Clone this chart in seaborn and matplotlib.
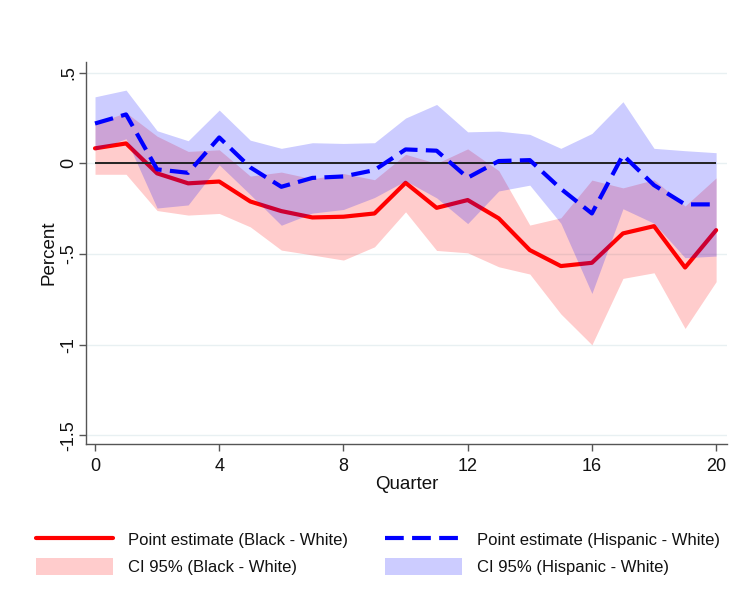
import matplotlib
matplotlib.use("Agg")
import matplotlib.pyplot as plt
from matplotlib.lines import Line2D
from matplotlib.patches import Patch
import pandas as pd
import seaborn as sns

# ---------------- data ----------------
quarters = list(range(21))
black_est = [0.083, 0.11, -0.055, -0.11, -0.10, -0.21, -0.263, -0.298, -0.294, -0.276, -0.107,
             -0.245, -0.202, -0.303, -0.478, -0.566, -0.548, -0.386, -0.346, -0.574, -0.368]
black_hi = [0.22, 0.28, 0.15, 0.066, 0.075, -0.07, -0.048, -0.085, -0.056, -0.09, 0.05,
            0.0, 0.08, -0.04, -0.34, -0.30, -0.092, -0.135, -0.09, -0.235, -0.08]
black_lo = [-0.06, -0.06, -0.26, -0.285, -0.276, -0.35, -0.478, -0.505, -0.533, -0.46, -0.267,
            -0.48, -0.493, -0.57, -0.61, -0.83, -1.0, -0.634, -0.603, -0.91, -0.652]
hisp_est = [0.22, 0.27, -0.033, -0.052, 0.143, -0.022, -0.129, -0.08, -0.072, -0.037, 0.077,
            0.07, -0.079, 0.013, 0.018, -0.14, -0.276, 0.046, -0.12, -0.226, -0.226]
hisp_hi = [0.367, 0.404, 0.18, 0.125, 0.294, 0.128, 0.083, 0.114, 0.11, 0.114, 0.25,
           0.325, 0.174, 0.178, 0.16, 0.083, 0.165, 0.34, 0.083, 0.07, 0.059]
hisp_lo = [0.073, 0.136, -0.246, -0.229, -0.008, -0.172, -0.341, -0.274, -0.254, -0.188, -0.096,
           -0.19, -0.332, -0.152, -0.12, -0.33, -0.717, -0.25, -0.33, -0.52, -0.511]

x_ticks = [0, 4, 8, 12, 16, 20]
y_ticks = [0.5, 0, -0.5, -1, -1.5]
y_tick_labels = [".5", "0", "-.5", "-1", "-1.5"]
legend_labels = ["Point estimate (Black - White)", "CI 95% (Black - White)",
                 "Point estimate (Hispanic - White)", "CI 95% (Hispanic - White)"]

df = pd.DataFrame({"quarter": quarters, "black": black_est, "hisp": hisp_est})

# ---------------- style ----------------
sns.set_theme(style="white")
plt.rcParams["font.family"] = ["Liberation Sans", "DejaVu Sans"]

W, H = 748, 602
fig = plt.figure(figsize=(W / 100, H / 100), dpi=100)
ax = fig.add_axes([86 / W, 1 - 444 / H, (727 - 86) / W, (444 - 62) / H])

RED = "#ff0000"
BLUE = "#0000ff"
DASH = (4.5, 2.0)

ax.fill_between(quarters, black_lo, black_hi, color=RED, alpha=0.2, lw=0, zorder=1)
sns.lineplot(data=df, x="quarter", y="black", color=RED, lw=3, ax=ax, zorder=3)
ax.fill_between(quarters, hisp_lo, hisp_hi, color=BLUE, alpha=0.2, lw=0, zorder=4)
ax.hlines(0, quarters[0], quarters[-1], color="#222222", lw=1.4, zorder=5)
sns.lineplot(data=df, x="quarter", y="hisp", color=BLUE, lw=3, ax=ax, zorder=6)
ax.lines[-1].set_dashes(DASH)

ax.set_xlim(-0.29, 20.35)
ax.set_ylim(-1.547, 0.559)

for s in ["top", "right"]:
    ax.spines[s].set_visible(False)
for s in ["left", "bottom"]:
    ax.spines[s].set_color("#555555")
    ax.spines[s].set_linewidth(1.0)

ax.set_axisbelow(True)
ax.yaxis.grid(True, color="#e8f0f2", lw=1.0)
ax.xaxis.grid(False)

ax.set_xticks(x_ticks)
ax.set_xticklabels([str(t) for t in x_ticks])
ax.set_yticks(y_ticks)
ax.set_yticklabels(y_tick_labels, rotation=90, va="center")
ax.tick_params(axis="both", direction="out", length=5, width=1.0, color="#555555",
               labelsize=13, labelcolor="#111111", bottom=True, left=True)
ax.tick_params(axis="x", pad=5)
ax.tick_params(axis="y", pad=1.5)

ax.set_xlabel("Quarter", fontsize=13.5, color="#111111", labelpad=1)
ax.set_ylabel("Percent", fontsize=13.5, color="#111111", labelpad=2)

handles = [
    Line2D([0], [0], color=RED, lw=3),
    Patch(facecolor=(1, 0, 0, 0.2), edgecolor="none"),
    Line2D([0], [0], color=BLUE, lw=3, dashes=DASH),
    Patch(facecolor=(0, 0, 1, 0.2), edgecolor="none"),
]
fig.legend(handles, legend_labels, ncol=2, loc="upper left",
           bbox_to_anchor=(21 / W, 1 - 516 / H), frameon=False, fontsize=12,
           handlelength=4.6, handleheight=1.25, handletextpad=0.9,
           columnspacing=2.25, labelspacing=0.55, labelcolor="#111111")

fig.savefig("out.png", dpi=100, facecolor="white")
